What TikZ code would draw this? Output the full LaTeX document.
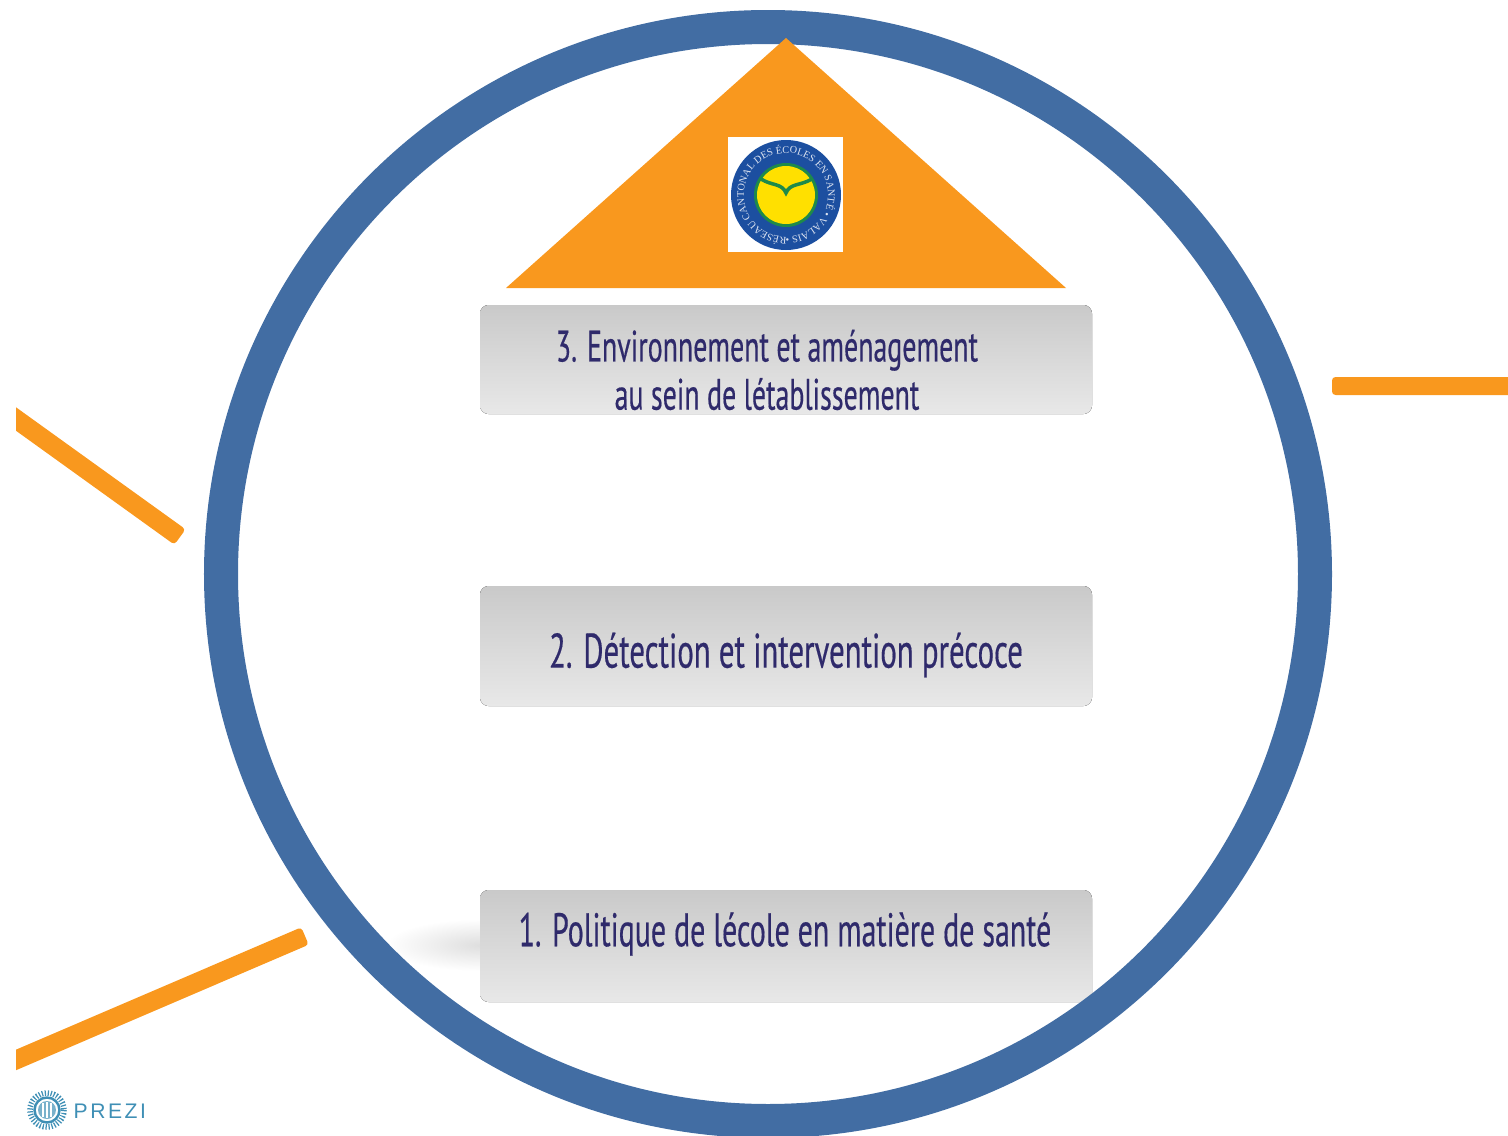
\documentclass[tikz,border=0pt]{standalone}
\usepackage{fontspec}
\setmainfont{PT Sans}[FakeStretch=0.635,FakeBold=0.35]
\newfontfamily\logofont{Liberation Sans}[LetterSpace=12]
\newfontfamily\ringfont{Liberation Serif}
\usetikzlibrary{decorations.text}
\definecolor{ringblue}{HTML}{426DA3}
\definecolor{rayorange}{HTML}{F9981E}
\definecolor{textindigo}{HTML}{2F2A6B}
\definecolor{logoblue}{HTML}{1C4FA0}
\definecolor{logoyellow}{HTML}{FFE000}
\definecolor{logogreen}{HTML}{1E8A4A}
\definecolor{prezi}{HTML}{3F8FB5}
\tikzset{
    levelbox/.style={rounded corners=2.4pt, top color=black!21, bottom color=black!9},
    leveltext/.style={color=textindigo, align=center},
    rayline/.style={color=rayorange, rounded corners=1pt},
}
\begin{document}
\begin{tikzpicture}[x=0.01cm,y=-0.01cm]
\useasboundingbox (0,0) rectangle (1508,1136);

% orange rays
\begin{scope}
\clip (16,0) rectangle (1508,1136);
\fill [rayline] (5.6,399.8) -- (185.6,529.3) -- (174.4,544.7) -- (-5.6,415.2) -- cycle;
\fill [rayline] (1332,377) -- (1530,377) -- (1530,395) -- (1332,395) -- cycle;
\fill [rayline] (-3.7,1058.1) -- (301.3,927.3) -- (308.7,944.7) -- (3.7,1075.5) -- cycle;
\end{scope}

% levels
\shade [inner color=black!13, outer color=white] (481,945) ellipse (95 and 26);
\fill [levelbox] (480,305) rectangle (1092,414);
\fill [levelbox] (480,586) rectangle (1092,706);
\fill [levelbox] (480,890) rectangle (1092,1002);
\node [leveltext, font=\fontsize{12.5}{13.7}\selectfont] (levelC) at (767,370) {3. Environnement et aménagement\\au sein de létablissement};
\node [leveltext, font=\fontsize{13.8}{13.8}\selectfont] (levelB) at (786,655) {2. Détection et intervention précoce};
\node [leveltext, font=\fontsize{13.4}{13.4}\selectfont] (levelA) at (785,934) {1. Politique de lécole en matière de santé};

% big ring
\draw [line width=9.67pt, color=ringblue] (768,574) circle (547);

% roof
\fill [color=rayorange] (786,38) -- (1066,288) -- (506,288) -- cycle;
\fill [color=white] (728,137) rectangle (843,252);
\fill [color=logoblue] (786,195) circle (55);
\path [postaction={decorate,decoration={text along path,text align=center,
    text={|\ringfont\fontsize{2.9}{2.9}\selectfont\color{white!85!logoblue}|RÉSEAU CANTONAL DES ÉCOLES EN SANTÉ • VALAIS •}}}]
    (786,237) arc (270:-90:42 and -42);
\fill [color=logogreen] (786,195) circle (32);
\fill [color=logoyellow] (786,195) circle (29);
\draw [color=logogreen, line width=1pt] (761,179) .. controls (772,186) and (782,183) .. (786,193) .. controls (790,183) and (800,186) .. (812,179);

% logo
\draw [color=prezi, line width=1.6pt, dash pattern=on 0.35pt off 0.5pt] (47,1110) circle (17);
\draw [color=prezi, line width=0.7pt] (47,1110) circle (12.5);
\fill [color=prezi!70] (47,1110) circle (9);
\draw [color=white, line width=0.4pt] (43,1103) -- (43,1117) (47,1102) -- (47,1118) (51,1103) -- (51,1117);
\node [font=\logofont\fontsize{6}{6}\selectfont, color=prezi, inner sep=0pt, anchor=west] (logotext) at (73,1111) {PREZI};
\end{tikzpicture}
\end{document}
